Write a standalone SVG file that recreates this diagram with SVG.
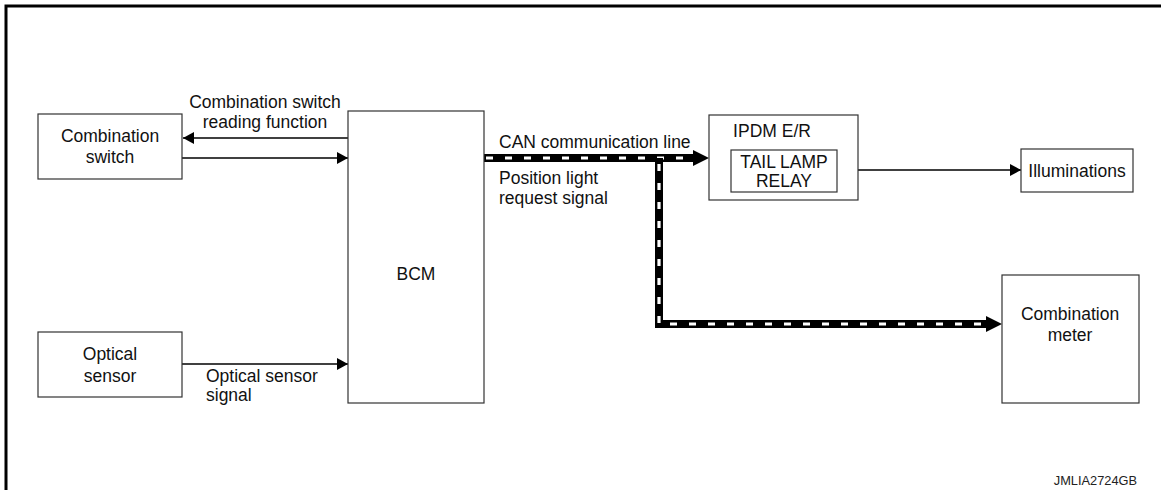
<svg xmlns="http://www.w3.org/2000/svg" width="1161" height="490" viewBox="0 0 1161 490">
<style>
.box{fill:#fff;stroke:#333;stroke-width:1.2}
.t{font-family:"Liberation Sans",Arial,sans-serif;font-size:17.5px;fill:#111}
.c{text-anchor:middle}
.ln{fill:none;stroke:#000;stroke-width:1.3}
.bus{fill:none;stroke:#000;stroke-width:8}
.busw{fill:none;stroke:#fff;stroke-width:3.2;stroke-dasharray:7 12}
</style>
<defs>
<marker id="ah" markerUnits="userSpaceOnUse" markerWidth="12" markerHeight="14" refX="11" refY="6" orient="auto">
<path d="M0,0 L11,6 L0,12 Z" fill="#000"/>
</marker>
</defs>
<rect width="1161" height="490" fill="#fff"/>
<path d="M6,490 V6 H1161" fill="none" stroke="#000" stroke-width="3"/>

<g id="connectors">
<path class="ln" d="M348,138 H183" marker-end="url(#ah)"/>
<path class="ln" d="M182,158 H348" marker-end="url(#ah)"/>
<path class="ln" d="M182,364 H348" marker-end="url(#ah)"/>
<path class="ln" d="M837,170 H1021" marker-end="url(#ah)"/>
<path class="bus" d="M484,158 H694"/>
<path class="busw" d="M486,158 H694"/>
<path d="M693,150 L709,158 L693,166 Z" fill="#000"/>
<path class="bus" d="M659,158 V324 H987"/>
<path class="busw" d="M659,164 V324 H987"/>
<path d="M986,316 L1002,324 L986,332 Z" fill="#000"/>
<text class="t c" x="265" y="108">Combination switch</text>
<text class="t c" x="265" y="128">reading function</text>
<text class="t" x="499" y="148">CAN communication line</text>
<text class="t" x="499" y="184">Position light</text>
<text class="t" x="499" y="204">request signal</text>
<text class="t" x="206" y="382">Optical sensor</text>
<text class="t" x="206" y="401">signal</text>
</g>

<g id="combination-switch">
<rect class="box" x="38" y="114" width="144" height="65"/>
<text class="t c" x="110" y="142">Combination</text>
<text class="t c" x="110" y="163">switch</text>
</g>

<g id="optical-sensor">
<rect class="box" x="38" y="332" width="144" height="65"/>
<text class="t c" x="110" y="360">Optical</text>
<text class="t c" x="110" y="382">sensor</text>
</g>

<g id="bcm">
<rect class="box" x="348" y="111" width="136" height="292"/>
<text class="t c" x="416" y="280">BCM</text>
</g>

<g id="ipdm">
<rect class="box" x="709" y="115" width="149" height="85"/>
<text class="t c" x="772" y="137">IPDM E/R</text>
<rect class="box" x="731" y="150" width="106" height="42"/>
<text class="t c" x="784" y="168">TAIL LAMP</text>
<text class="t c" x="784" y="187">RELAY</text>
</g>

<g id="illuminations">
<rect class="box" x="1021" y="149" width="112" height="43"/>
<text class="t c" x="1077" y="177">Illuminations</text>
</g>

<g id="combination-meter">
<rect class="box" x="1002" y="275" width="137" height="128"/>
<text class="t c" x="1070" y="320">Combination</text>
<text class="t c" x="1070" y="341">meter</text>
</g>

<text x="1137" y="485" text-anchor="end" font-family="Liberation Sans,Arial,sans-serif" font-size="12.8" fill="#222">JMLIA2724GB</text>
</svg>
